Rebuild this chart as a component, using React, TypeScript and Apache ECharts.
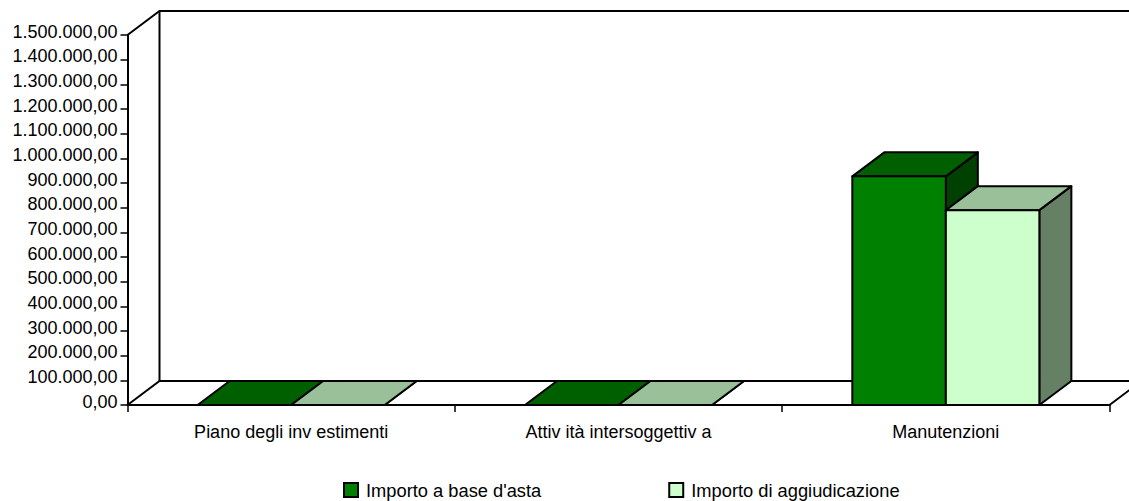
import React, { useEffect, useRef } from "react";
import * as echarts from "echarts";

const categories = ["Piano degli inv estimenti", "Attiv ità intersoggettiv a", "Manutenzioni"];
const baseValues = [0, 0, 927000];
const awardValues = [0, 0, 790000];
const yTickLabels = [
  "0,00", "100.000,00", "200.000,00", "300.000,00", "400.000,00", "500.000,00", "600.000,00", "700.000,00",
  "800.000,00", "900.000,00", "1.000.000,00", "1.100.000,00", "1.200.000,00", "1.300.000,00", "1.400.000,00", "1.500.000,00",
];
const seriesNames = ["Importo a base d'asta", "Importo di aggiudicazione"];
const frontColors = ["#008000", "#CCFFCC"];
const topColors = ["#006000", "#99C099"];
const sideColors = ["#004000", "#668066"];

const DX = 32;
const DY = 24;
const FONT = "'Liberation Sans', Arial, sans-serif";
const INK = "#000";

function barRenderer(idx: number) {
  return (_p: any, api: any) => {
    const top = api.coord([api.value(0), api.value(1)]);
    const base = api.coord([api.value(0), 0]);
    const band = api.size([1, 0])[0];
    const w = (band * 2) / 7;
    const x0 = top[0] - w + idx * w;
    const x1 = x0 + w;
    const yt = top[1];
    const yb = base[1];
    const st = { stroke: INK, lineWidth: 2, lineJoin: "round" };
    return {
      type: "group",
      children: [
        { type: "polygon", shape: { points: [[x1, yb], [x1 + DX, yb - DY], [x1 + DX, yt - DY], [x1, yt]] }, style: { ...st, fill: sideColors[idx] } },
        { type: "polygon", shape: { points: [[x0, yt], [x0 + DX, yt - DY], [x1 + DX, yt - DY], [x1, yt]] }, style: { ...st, fill: topColors[idx] } },
        { type: "rect", shape: { x: x0, y: yt, width: w, height: yb - yt }, style: { ...st, fill: frontColors[idx] } },
      ],
    };
  };
}

function frameRenderer(p: any) {
  const { x, y, width, height } = p.coordSys;
  const r = x + width;
  const b = y + height;
  const st = { stroke: INK, lineWidth: 2, fill: "none" };
  return {
    type: "group",
    children: [
      { type: "polyline", shape: { points: [[x, y], [x + DX, y - DY], [r + DX, y - DY]] }, style: st },
      { type: "line", shape: { x1: x + DX, y1: y - DY, x2: x + DX, y2: b - DY }, style: st },
      { type: "polyline", shape: { points: [[x, b], [x + DX, b - DY], [r + DX, b - DY], [r, b]] }, style: st },
    ],
  };
}

export default function App() {
  const ref = useRef<HTMLDivElement>(null);
  useEffect(() => {
    document.body.style.margin = "0";
    const chart = echarts.init(ref.current!, undefined, { renderer: "svg" });
    chart.setOption({
      animation: false,
      backgroundColor: "#fff",
      textStyle: { fontFamily: FONT },
      grid: { left: 127.5, top: 35, width: 982, height: 370, containLabel: false },
      legend: {
        left: 343,
        top: 481,
        padding: 0,
        itemWidth: 14,
        itemHeight: 14,
        itemGap: 127,
        icon: "rect",
        selectedMode: false,
        textStyle: { fontFamily: FONT, fontSize: 18.3, color: INK, padding: [0, 0, 0, 3] },
        data: seriesNames.map((name, i) => ({
          name,
          itemStyle: { color: frontColors[i], borderColor: INK, borderWidth: 2 },
        })),
      },
      xAxis: {
        type: "category",
        data: categories,
        boundaryGap: true,
        axisLine: { lineStyle: { color: INK, width: 2 } },
        axisTick: { show: true, length: 7, alignWithLabel: false, interval: 0, lineStyle: { color: INK, width: 1.5 } },
        axisLabel: { interval: 0, margin: 18, fontFamily: FONT, fontSize: 18, color: INK },
      },
      yAxis: {
        type: "value",
        min: 0,
        max: 1500000,
        interval: 100000,
        splitLine: { show: false },
        axisLine: { show: true, lineStyle: { color: INK, width: 2 } },
        axisTick: { show: true, length: 7, lineStyle: { color: INK, width: 1.5 } },
        axisLabel: {
          margin: 10,
          verticalAlign: "bottom",
          lineHeight: 7,
          fontFamily: FONT,
          fontSize: 18,
          color: INK,
          formatter: (v: number) => yTickLabels[Math.round(v / 100000)],
        },
      },
      series: [
        { name: "frame", type: "custom", z: 1, clip: false, silent: true, data: [[0]], renderItem: frameRenderer, encode: { x: 0 } },
        {
          name: seriesNames[0], type: "custom", z: 2, clip: false, itemStyle: { color: frontColors[0] },
          data: baseValues.map((v, i) => [i, v]), renderItem: barRenderer(0), encode: { x: 0, y: 1 },
        },
        {
          name: seriesNames[1], type: "custom", z: 3, clip: false, itemStyle: { color: frontColors[1] },
          data: awardValues.map((v, i) => [i, v]), renderItem: barRenderer(1), encode: { x: 0, y: 1 },
        },
      ],
    });
    return () => chart.dispose();
  }, []);
  return <div ref={ref} style={{ width: 1129, height: 501 }} />;
}
